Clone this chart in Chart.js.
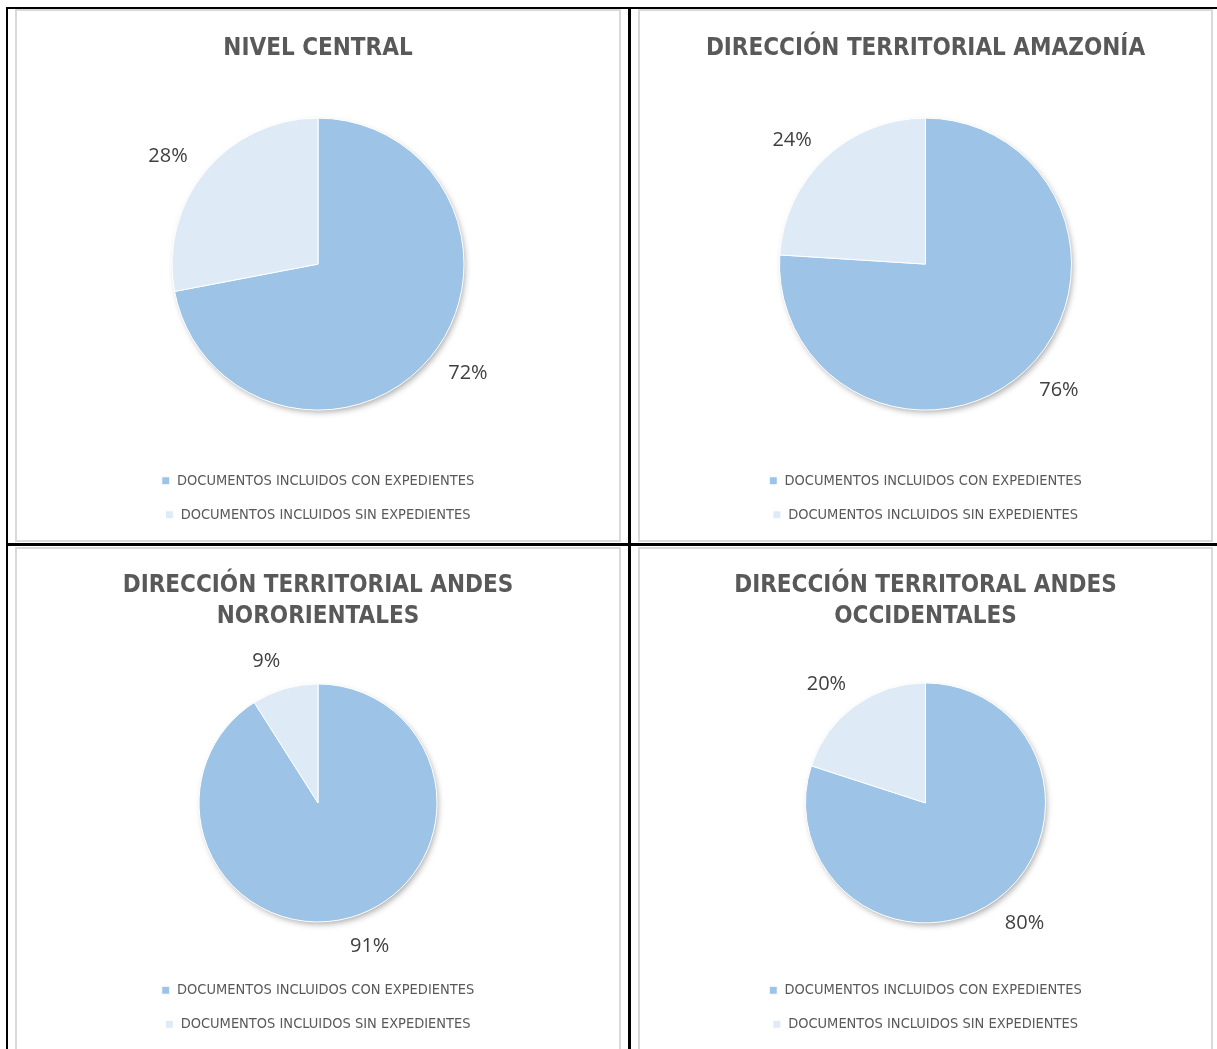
<!DOCTYPE html>
<html>
<head>
<meta charset="utf-8">
<script src="https://cdn.jsdelivr.net/npm/chart.js@4.4.1/dist/chart.umd.min.js"></script>
<style>
  html, body { margin: 0; padding: 0; background: #fff; width: 1217px; height: 1049px; overflow: hidden; }
  .line { position: absolute; background: #000; }
  .box { position: absolute; border: 2px solid #d9d9d9; box-sizing: border-box; background: #fff; }
  .box canvas { display: block; }
</style>
</head>
<body>
<!-- table rules -->
<div class="line" style="left:6px;top:7px;width:1211px;height:2px"></div>
<div class="line" style="left:6px;top:7px;width:2px;height:1042px"></div>
<div class="line" style="left:628px;top:7px;width:3px;height:1042px"></div>
<div class="line" style="left:6px;top:543px;width:1211px;height:3px"></div>

<div class="box" style="left:15px;top:9px;width:606px;height:533px"><canvas id="c0" width="602" height="529"></canvas></div>
<div class="box" style="left:638px;top:9px;width:575px;height:533px"><canvas id="c1" width="571" height="529"></canvas></div>
<div class="box" style="left:15px;top:547px;width:606px;height:507px"><canvas id="c2" width="602" height="503"></canvas></div>
<div class="box" style="left:638px;top:547px;width:575px;height:507px"><canvas id="c3" width="571" height="503"></canvas></div>

<script>
// chart data
const chartTitles = [
  ['NIVEL CENTRAL'],
  ['DIRECCIÓN TERRITORIAL AMAZONÍA'],
  ['DIRECCIÓN TERRITORIAL ANDES', 'NORORIENTALES'],
  ['DIRECCIÓN TERRITORAL ANDES', 'OCCIDENTALES']
];
const categories = ['DOCUMENTOS INCLUIDOS CON EXPEDIENTES', 'DOCUMENTOS INCLUIDOS SIN EXPEDIENTES'];
const conExpedientes = [72, 76, 91, 80];
const sinExpedientes = [28, 24, 9, 20];

const colors = ['#9dc3e6', '#deebf7'];
const narrow = "'Liberation Sans Narrow', 'DejaVu Sans Condensed', 'Arial Narrow', sans-serif";

// per panel layout
const panels = [
  { radius: 146, titleTop: 22, titleBottom: 10, legendBottom: 8 },
  { radius: 146, titleTop: 22, titleBottom: 10, legendBottom: 8 },
  { radius: 119, titleTop: 21, titleBottom: 10, legendBottom: 10.5 },
  { radius: 120, titleTop: 21, titleBottom: 10, legendBottom: 10.5 }
];

// soft shadow under the pie
const pieShadow = {
  id: 'pieShadow',
  beforeDatasetsDraw(chart) {
    const arc = chart.getDatasetMeta(0).data[0];
    if (!arc) return;
    const ctx = chart.ctx;
    ctx.save();
    ctx.shadowColor = 'rgba(0,0,0,0.35)';
    ctx.shadowBlur = 6;
    ctx.shadowOffsetX = 2;
    ctx.shadowOffsetY = 3;
    ctx.fillStyle = colors[0];
    ctx.beginPath();
    ctx.arc(arc.x, arc.y, arc.outerRadius - 1, 0, Math.PI * 2);
    ctx.fill();
    ctx.restore();
  }
};

// percentage labels outside the slices
const outsideLabels = {
  id: 'outsideLabels',
  afterDatasetsDraw(chart) {
    const ctx = chart.ctx;
    const ds = chart.data.datasets[0];
    const total = ds.data.reduce((a, b) => a + b, 0);
    ctx.save();
    ctx.font = "20px 'Open Sans', 'Noto Sans', sans-serif";
    ctx.fillStyle = '#404040';
    ctx.textAlign = 'center';
    ctx.textBaseline = 'middle';
    chart.getDatasetMeta(0).data.forEach((arc, i) => {
      const text = Math.round(ds.data[i] / total * 100) + '%';
      const hw = ctx.measureText(text).width / 2;
      const hh = 10;
      const mid = (arc.startAngle + arc.endAngle) / 2 - 0.065;
      const c = Math.abs(Math.cos(mid)), s = Math.abs(Math.sin(mid));
      const ext = Math.min(c > 0.01 ? hw / c : 1e9, s > 0.01 ? hh / s : 1e9);
      const d = arc.outerRadius + 22 + ext;
      const x = arc.x + Math.cos(mid) * d;
      const y = arc.y + Math.sin(mid) * d + 1;
      ctx.fillText(text, x, y);
    });
    ctx.restore();
  }
};

chartTitles.forEach((title, i) => {
  const p = panels[i];
  new Chart(document.getElementById('c' + i), {
    type: 'pie',
    data: {
      labels: categories,
      datasets: [{
        data: [conExpedientes[i], sinExpedientes[i]],
        backgroundColor: colors,
        borderColor: '#ffffff',
        borderWidth: 1,
        radius: p.radius
      }]
    },
    options: {
      responsive: false,
      animation: false,
      layout: { padding: { top: 0, bottom: p.legendBottom, left: 0, right: 0 } },
      plugins: {
        title: {
          display: true,
          text: title,
          color: '#595959',
          font: { family: narrow, size: 24, weight: 'bold', lineHeight: 1.3 },
          padding: { top: p.titleTop, bottom: p.titleBottom }
        },
        legend: {
          position: 'bottom',
          labels: {
            color: '#595959',
            font: { family: narrow, size: 14.5 },
            boxWidth: 8,
            boxHeight: 8,
            padding: 19.5
          }
        },
        tooltip: { enabled: false }
      }
    },
    plugins: [pieShadow, outsideLabels]
  });
});
</script>
</body>
</html>
